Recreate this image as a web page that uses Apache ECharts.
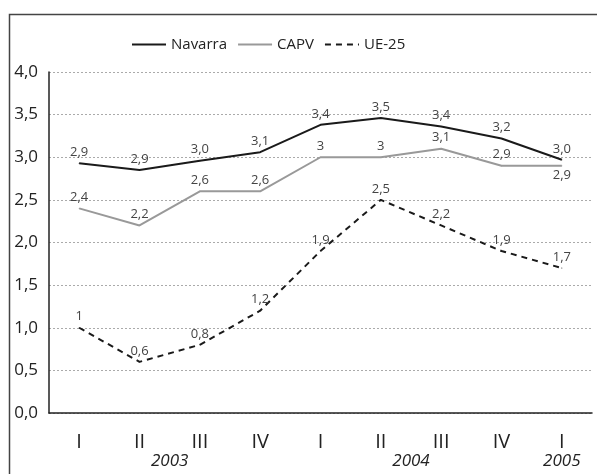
<!DOCTYPE html>
<html>
<head>
<meta charset="utf-8">
<script src="https://cdn.jsdelivr.net/npm/echarts@6/dist/echarts.min.js"></script>
<style>
  html, body { margin: 0; padding: 0; background: #fff; }
  #main { width: 597px; height: 474px; }
</style>
</head>
<body>
<div id="main"></div>
<script>
var quarters = ['I', 'II', 'III', 'IV', 'I', 'II', 'III', 'IV', 'I'];
var years = ['2003', '2004', '2005'];
var yearAt = [2, 6, 8.5]; // centre of each year's quarters, in category units

var navarra = [2.93, 2.85, 2.96, 3.06, 3.38, 3.46, 3.36, 3.22, 2.97];
var navarraLabels = ['2,9', '2,9', '3,0', '3,1', '3,4', '3,5', '3,4', '3,2', '3,0'];
var capv = [2.4, 2.2, 2.6, 2.6, 3.0, 3.0, 3.1, 2.9, 2.9];
var capvLabels = ['2,4', '2,2', '2,6', '2,6', '3', '3', '3,1', '2,9', '2,9'];
var ue25 = [1.0, 0.6, 0.8, 1.2, 1.9, 2.5, 2.2, 1.9, 1.7];
var ue25Labels = ['1', '0,6', '0,8', '1,2', '1,9', '2,5', '2,2', '1,9', '1,7'];

var font = 'Open Sans';
var chartDom = document.getElementById('main');
var myChart = echarts.init(chartDom);

function withLabels(values, labels, below) {
  return values.map(function (v, i) {
    var d = { value: v, labelText: labels[i] };
    if (below && below.indexOf(i) >= 0) {
      d.label = { position: 'bottom', distance: 3 };
    }
    return d;
  });
}

var labelStyle = {
  show: true,
  position: 'top',
  distance: 4,
  color: '#444',
  fontSize: 13,
  fontFamily: font,
  formatter: function (p) { return p.data.labelText; }
};

var option = {
  animation: false,
  graphic: [{
    type: 'rect',
    left: 7, top: 12,
    shape: { width: 600, height: 480 },
    style: { fill: 'none', stroke: '#444', lineWidth: 1.5 }
  }],
  legend: {
    top: 32,
    left: 126,
    itemWidth: 34,
    itemHeight: 14,
    itemGap: 10,
    itemStyle: { opacity: 0 },
    textStyle: { color: '#222', fontSize: 15, fontFamily: font },
    data: ['Navarra', 'CAPV', 'UE-25']
  },
  grid: { left: 49, right: 5, top: 72, bottom: 61, containLabel: false },
  xAxis: [{
    type: 'category',
    data: quarters,
    boundaryGap: true,
    axisLine: { show: true, lineStyle: { color: '#222', width: 1.5 } },
    axisTick: { show: false },
    axisLabel: { color: '#222', fontSize: 20, fontFamily: font, margin: 19 }
  }, {
    type: 'value',
    position: 'bottom',
    min: 0, max: 9, interval: 0.5,
    axisLine: { show: false },
    axisTick: { show: false },
    splitLine: { show: false },
    axisLabel: {
      color: '#222', fontSize: 17, fontStyle: 'italic', fontFamily: font, margin: 40,
      showMinLabel: true, showMaxLabel: true,
      formatter: function (v) {
        var k = yearAt.indexOf(v);
        return k >= 0 ? years[k] : '';
      }
    }
  }],
  yAxis: {
    type: 'value',
    min: 0, max: 4, interval: 0.5,
    axisLine: { show: true, lineStyle: { color: '#222', width: 1.5 } },
    axisTick: { show: false },
    axisLabel: {
      color: '#222', fontSize: 17, fontFamily: font, margin: 11,
      formatter: function (v) { return v.toFixed(1).replace('.', ','); }
    },
    splitLine: { show: true, lineStyle: { color: '#aaa', type: [2, 2], width: 1 } }
  },
  series: [{
    name: 'Navarra',
    type: 'line',
    symbol: 'circle',
    symbolSize: 1,
    lineStyle: { color: '#1a1a1a', width: 2 },
    itemStyle: { color: '#1a1a1a' },
    label: labelStyle,
    data: withLabels(navarra, navarraLabels)
  }, {
    name: 'CAPV',
    type: 'line',
    symbol: 'circle',
    symbolSize: 1,
    lineStyle: { color: '#999', width: 2 },
    itemStyle: { color: '#999' },
    label: labelStyle,
    data: withLabels(capv, capvLabels, [8])
  }, {
    name: 'UE-25',
    type: 'line',
    symbol: 'circle',
    symbolSize: 1,
    lineStyle: { color: '#1a1a1a', width: 2, type: [6, 5] },
    itemStyle: { color: '#1a1a1a' },
    label: labelStyle,
    data: withLabels(ue25, ue25Labels)
  }]
};

option && myChart.setOption(option);
</script>
</body>
</html>
